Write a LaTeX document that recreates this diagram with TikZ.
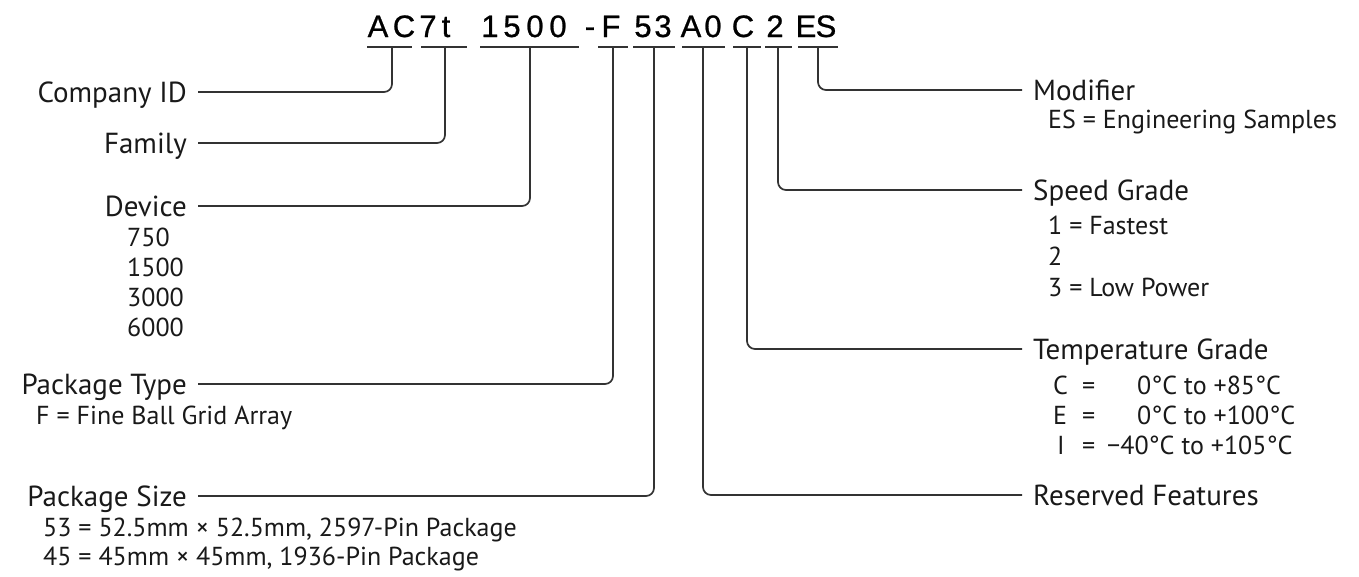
\documentclass[tikz,border=0pt]{standalone}
\usepackage{fontspec}
\setmainfont{PT Sans}
\newfontfamily\codefont[FakeBold=0.8]{Liberation Sans}
\begin{document}
\begin{tikzpicture}[x=1pt,y=-1pt,
  lbl/.style={font=\fontsize{29}{33}\selectfont, text=black!90, inner xsep=11pt, inner ysep=0pt, text height=20pt, text depth=0pt},
  sub/.style={font=\fontsize{26}{30}\selectfont, text=black!90, inner sep=0pt, anchor=base west},
  code/.style={font=\codefont\fontsize{31}{32}\selectfont, text=black, inner sep=0pt, anchor=base},
  uline/.style={line width=1.7pt, draw=black!80},
  conn/.style={line width=1.7pt, draw=black!80, rounded corners=8pt}]
\useasboundingbox (0,0) rectangle (1359,576);

% part number characters
\foreach \ch/\cx [count=\i] in {A/378,C/404,7/428,t/446,1/490,5/512,0/535,0/558,-/590,F/611,5/643,3/663,A/691,0/713,C/743,2/775,E/806,S/826}
  \node[code] (ch\i) at (\cx,37) {\ch};

% underlines with their midpoints
\draw[uline] (367,47) -- (412,47); \coordinate (uAC) at (392,47);
\draw[uline] (421,47) -- (467,47); \coordinate (uFam) at (445,47);
\draw[uline] (480,47) -- (579,47); \coordinate (uDev) at (530,47);
\draw[uline] (598,47) -- (628,47); \coordinate (uPT) at (613,47);
\draw[uline] (633,47) -- (675,47); \coordinate (uPS) at (654,47);
\draw[uline] (682,47) -- (725,47); \coordinate (uRes) at (703,47);
\draw[uline] (733,47) -- (761,47); \coordinate (uTmp) at (747,47);
\draw[uline] (765,47) -- (792,47); \coordinate (uSpd) at (778,47);
\draw[uline] (798,47) -- (838,47); \coordinate (uMod) at (818,47);

% left labels
\node[lbl, anchor=east] (company) at (198,92) {Company ID};
\node[lbl, anchor=east] (family) at (198,143) {Family};
\node[lbl, anchor=east] (device) at (198,206) {Device};
\node[sub] (d1) at (127,246) {750};
\node[sub] (d2) at (127,276) {1500};
\node[sub] (d3) at (127,306) {3000};
\node[sub] (d4) at (127,336) {6000};
\node[lbl, anchor=east] (ptype) at (198,384) {Package Type};
\node[sub] (pt1) at (36,424) {F = Fine Ball Grid Array};
\node[lbl, anchor=east] (psize) at (198,496) {Package Size};
\node[sub] (ps1) at (43,536) {53 = 52.5mm × 52.5mm, 2597-Pin Package};
\node[sub] (ps2) at (43,565) {45 = 45mm × 45mm, 1936-Pin Package};

% right labels
\node[lbl, anchor=west] (modifier) at (1022,90) {Modifier};
\node[sub] (m1) at (1048,128) {ES = Engineering Samples};
\node[lbl, anchor=west] (speed) at (1022,190) {Speed Grade};
\node[sub] (s1) at (1048,234) {1 = Fastest};
\node[sub] (s2) at (1048,265) {2};
\node[sub] (s3) at (1048,296) {3 = Low Power};
\node[lbl, anchor=west] (temp) at (1022,349) {Temperature Grade};
\node[sub] (t1a) at (1053,394) {C};
\node[sub] (t1b) at (1082,394) {=};
\node[sub] (t1c) at (1137,394) {0°C to +85°C};
\node[sub] (t2a) at (1053,424) {E};
\node[sub] (t2b) at (1082,424) {=};
\node[sub] (t2c) at (1137,424) {0°C to +100°C};
\node[sub] (t3a) at (1057,454) {I};
\node[sub] (t3b) at (1082,454) {=};
\node[sub] (t3c) at (1107,454) {−40°C to +105°C};
\node[lbl, anchor=west] (reserved) at (1022,495) {Reserved Features};

% connectors
\draw[conn] (uAC) |- (company.east);
\draw[conn] (uFam) |- (family.east);
\draw[conn] (uDev) |- (device.east);
\draw[conn] (uPT) |- (ptype.east);
\draw[conn] (uPS) |- (psize.east);
\draw[conn] (uRes) |- (reserved.west);
\draw[conn] (uTmp) |- (temp.west);
\draw[conn] (uSpd) |- (speed.west);
\draw[conn] (uMod) |- (modifier.west);
\end{tikzpicture}
\end{document}
